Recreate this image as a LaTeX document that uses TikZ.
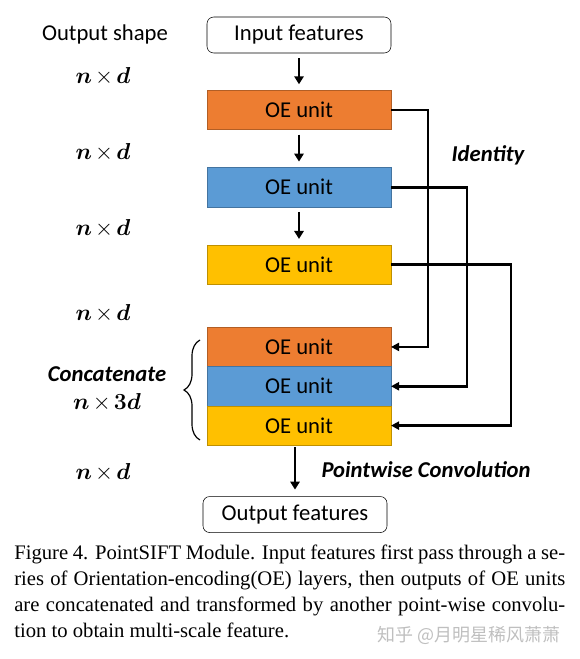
\documentclass[tikz,border=0pt]{standalone}
\usepackage[no-math]{fontspec}
\usepackage{amsmath}
\usepackage{bm}
\setmainfont{Liberation Serif}
\newfontfamily\calibri{Carlito}
\newfontfamily\cjk{Noto Sans CJK SC}
\usetikzlibrary{positioning,calc,arrows.meta,decorations.pathreplacing}

\definecolor{oeorange}{HTML}{ED7D31}
\definecolor{oeblue}{HTML}{5B9BD5}
\definecolor{oegold}{HTML}{FFC000}

\begin{document}
\begin{tikzpicture}[x=0.75pt,y=-0.75pt,
        box/.style={draw,rounded corners=5pt,fill=white,minimum width=138pt,minimum height=27pt,inner sep=0pt,font=\calibri\fontsize{17}{20}\selectfont},
        unit/.style={draw=#1!75!black,fill=#1,minimum width=138pt,minimum height=29.5pt,inner sep=0pt,outer sep=0pt,font=\calibri\fontsize{17}{20}\selectfont},
        flow/.style={-{Triangle[length=6pt,width=7pt]},line width=1.9pt},
        skip/.style={-{Triangle[length=6pt,width=6pt]},line width=2pt},
        dims/.style={font=\fontsize{16.5}{20}\selectfont},
        lbl/.style={font=\calibri\bfseries\itshape\fontsize{17}{20}\selectfont}]
        \useasboundingbox (0,0) rectangle (580,659);

        \node[box] (in) at (299,35) {Input features};
        \node[unit=oeorange] (oe1) [below=27.75pt of in] {OE unit};
        \node[unit=oeblue] (oe2) [below=28.5pt of oe1] {OE unit};
        \node[unit=oegold] (oe3) [below=28.5pt of oe2] {OE unit};
        \node[unit=oeorange] (cat1) [below=32.25pt of oe3] {OE unit};
        \node[unit=oeblue] (cat2) [below=0pt of cat1] {OE unit};
        \node[unit=oegold] (cat3) [below=0pt of cat2] {OE unit};
        \node[box] (out) [below=38.25pt of cat3, xshift=-3pt] {Output features};

        \foreach \a/\b in {in/oe1,oe1/oe2,oe2/oe3}{
            \draw[flow,shorten <=3.75pt,shorten >=4.5pt] (\a) -- (\b);
        }
        \draw[flow,shorten <=1.5pt,shorten >=5pt] (cat3.south -| out) -- (out);
        \foreach \i/\x in {1/37,2/76,3/120}{
            \draw[skip] (oe\i.east) -- ++(\x,0) |- (cat\i.east);
        }

        % left column
        \node[font=\calibri\fontsize{17}{20}\selectfont] (shape) at (105,34) {Output shape};
        \foreach \y in {76,152,228,313,472}{
            \node[dims] at (103,\y) {$\bm{n}\mkern-1.5mu\times\mkern-1.5mu\bm{d}$};
        }
        \node[lbl] (cc) at (107,374) {Concatenate};
        \node[dims] (cd) at (107,402) {$\bm{n}\mkern-1.5mu\times\mkern-1.5mu\bm{3d}$};
        \coordinate (b1) at (200,440);
        \coordinate (b2) at (200,340);
        \draw[decorate,decoration={brace,amplitude=12pt},line width=0.9pt] (b1) -- (b2);

        \node[lbl] (id) at (488,155) {Identity};
        \node[lbl] (pw) at (426,470) {Pointwise Convolution};

        % caption
        \node[anchor=north west,text width=413.25pt,align=justify,inner sep=0pt,font=\fontsize{15.5}{19.5}\selectfont] (cap) at (14,545)
            {Figure 4. PointSIFT Module. Input features first pass through a se-\linebreak
            ries of Orientation-encoding(OE) layers, then outputs of OE units\linebreak
            are concatenated and transformed by another point-wise convolu-\linebreak
            tion to obtain multi-scale feature.};
        \node[anchor=east,text=gray!50,font=\cjk\fontsize{13.5}{16}\selectfont] (wm) at (565,635) {知乎 @月明星稀风萧萧};
    \end{tikzpicture}
\end{document}
